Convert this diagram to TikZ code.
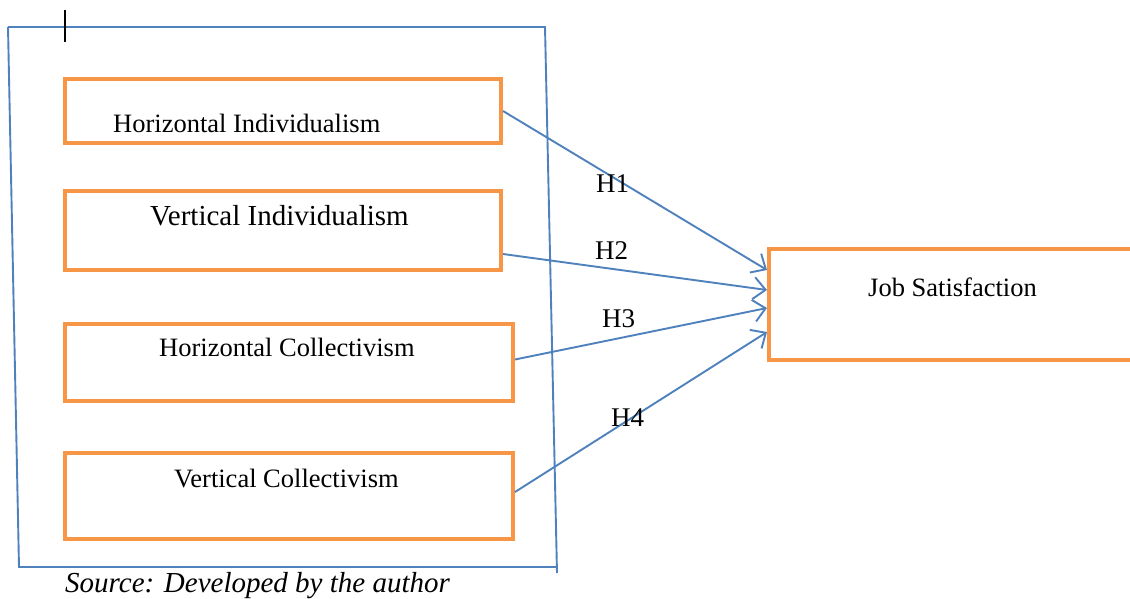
\documentclass[tikz,border=0pt]{standalone}
\usepackage{fontspec}
\setmainfont{Liberation Serif}
\usetikzlibrary{arrows.meta,calc}
\definecolor{boxorange}{HTML}{F79646}
\definecolor{lineblue}{HTML}{4F81BD}
\begin{document}
\begin{tikzpicture}[x=1pt,y=-1pt,
  cbox/.style={draw=boxorange,line width=4pt,inner sep=0pt,anchor=north west},
  lbl/.style={inner sep=0pt,anchor=base west,font=\fontsize{26.5}{30}\selectfont},
  link/.style={draw=lineblue,line width=1.9pt,-{Straight Barb[length=12pt,width=22pt,line width=1.9pt]}},
  hyp/.style={inner sep=0pt,anchor=base west,font=\fontsize{27}{30}\selectfont},
  frame/.style={draw=lineblue,line width=1.9pt}]
\useasboundingbox (0,0) rectangle (1130,599);
\fill[white] (0,0) rectangle (1130,599);
% outer frame
\draw[frame] (8,27) -- (545,27) -- (557,573);
\draw[frame] (8,27) -- (19,567) -- (557,567);
% cursor mark
\draw[black,line width=1.5pt] (65,10) -- (65,42);
% boxes
\node[cbox,minimum width=436pt,minimum height=64pt] (hi) at (63,77) {};
\node[cbox,minimum width=436pt,minimum height=79pt] (vi) at (63,189) {};
\node[cbox,minimum width=448pt,minimum height=77pt] (hc) at (63,322) {};
\node[cbox,minimum width=448pt,minimum height=86pt] (vc) at (63,451) {};
\node[cbox,minimum width=370pt,minimum height=111pt] (js) at (767,247) {};
% texts
\node[lbl] (thi) at (113,133) {Horizontal Individualism};
\node[lbl,font=\fontsize{29}{32}\selectfont] (tvi) at (150,225) {Vertical Individualism};
\node[lbl] (thc) at (159,356) {Horizontal Collectivism};
\node[lbl] (tvc) at (174,487) {Vertical Collectivism};
\node[lbl] (tjs) at (868,296) {Job Satisfaction};
\node[lbl,font=\itshape\fontsize{29}{32}\selectfont] (src) at (65,592) {Source: Developed by the author};
% connectors
\draw[link] (hi.east) -- ($(js.north west)+(0,23)$);
\draw[link] ($(vi.south east)+(0,-18)$) -- ($(js.north west)+(0,43)$);
\draw[link] ($(hc.east)+(0,-3)$) -- ($(js.north west)+(0,61)$);
\draw[link] ($(vc.east)+(0,-4)$) -- ($(js.north west)+(0,85)$);
% hypothesis labels
\node[hyp] (h1) at (596,193) {H1};
\node[hyp] (h2) at (595,259) {H2};
\node[hyp] (h3) at (602,327) {H3};
\node[hyp] (h4) at (611,426) {H4};
\end{tikzpicture}
\end{document}
